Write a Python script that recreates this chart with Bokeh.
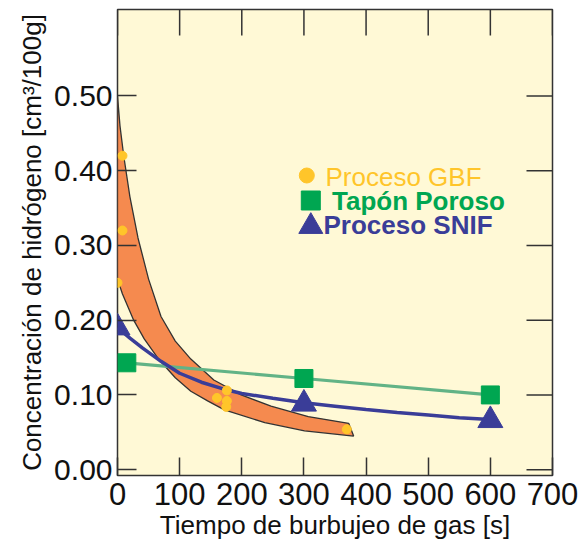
from bokeh.plotting import figure
from bokeh.models import Range1d, FixedTicker
from bokeh.embed import file_html
from bokeh.resources import INLINE
from bokeh.core.properties import value

# ---------------- data ----------------
x_ticks = [0, 100, 200, 300, 400, 500, 600, 700]
x_tick_labels = ["0", "100", "200", "300", "400", "500", "600", "700"]
y_ticks = [0.0, 0.1, 0.2, 0.3, 0.4, 0.5]
y_tick_labels = ["0.00", "0.10", "0.20", "0.30", "0.40", "0.50"]

# Proceso GBF (points)
gbf_x = [0, 8, 8, 160, 176, 176, 175, 369]
gbf_y = [0.25, 0.42, 0.32, 0.096, 0.106, 0.092, 0.084, 0.054]

# Proceso GBF scatter band (upper and lower edge)
band_upper_x = [0, 4, 10, 20, 33, 50, 70, 93, 118, 155, 199, 247, 307, 372]
band_upper_y = [0.50, 0.46, 0.42, 0.365, 0.31, 0.255, 0.205, 0.172, 0.148, 0.12, 0.10, 0.085, 0.071, 0.062]
band_lower_x = [0, 8, 26, 43, 67, 93, 118, 145, 172, 237, 301, 380]
band_lower_y = [0.255, 0.235, 0.20, 0.175, 0.147, 0.123, 0.105, 0.092, 0.080, 0.063, 0.052, 0.045]

# Tapón Poroso
tapon_x = [15, 300, 600]
tapon_y = [0.143, 0.122, 0.100]

# Proceso SNIF
snif_x = [0, 300, 600]
snif_y = [0.19, 0.088, 0.066]
snif_curve_x = [0, 20, 40, 70, 100, 135, 170, 200, 250, 300, 350, 400, 450, 500, 550, 600]
snif_curve_y = [0.19, 0.176, 0.163, 0.145, 0.129, 0.117, 0.108, 0.102, 0.0955, 0.0895, 0.085,
                0.0805, 0.0765, 0.073, 0.0695, 0.067]

legend_labels = ["Proceso GBF", "Tapón Poroso", "Proceso SNIF"]

# ---------------- style ----------------
FONT = "Liberation Sans"
C_YEL = "#FFC52A"
C_GRN = "#00A651"
C_GRN_LINE = "#62B386"
C_BLU = "#3A3D98"
C_ORG = "#F58A4F"
C_BG = "#FFF9D6"
C_INK = "#333333"
FW, FH = 435, 466

p = figure(frame_width=FW, frame_height=FH,
           x_range=Range1d(0, 700), y_range=Range1d(-0.0078, 0.6157),
           output_backend="svg", toolbar_location=None,
           min_border_left=117, min_border_right=30, min_border_top=9, min_border_bottom=0,
           background_fill_color=C_BG, border_fill_color="white",
           outline_line_color=C_INK, outline_line_width=1.5)
p.grid.visible = False

# bottom axis
xa = p.xaxis[0]
xa.ticker = FixedTicker(ticks=x_ticks)
xa.major_label_overrides = dict(zip(x_ticks, x_tick_labels))
xa.axis_line_color = None
xa.major_tick_in = 18
xa.major_tick_out = 0
xa.minor_tick_in = 0
xa.minor_tick_out = 0
xa.major_tick_line_color = C_INK
xa.major_tick_line_width = 1.5
xa.major_label_standoff = 7
xa.major_label_text_font = FONT
xa.major_label_text_font_size = "31px"
xa.major_label_text_color = "#111111"
xa.axis_label = "Tiempo de burbujeo de gas [s]"
xa.axis_label_text_font = FONT
xa.axis_label_text_font_size = "26px"
xa.axis_label_text_font_style = "normal"
xa.axis_label_text_color = "#111111"
xa.axis_label_standoff = 2

# left axis
ya = p.yaxis[0]
ya.ticker = FixedTicker(ticks=y_ticks)
ya.major_label_overrides = dict(zip(y_ticks, y_tick_labels))
ya.axis_line_color = None
ya.major_tick_in = 19
ya.major_tick_out = 0
ya.minor_tick_in = 0
ya.minor_tick_out = 0
ya.major_tick_line_color = C_INK
ya.major_tick_line_width = 1.5
ya.major_label_standoff = 5
ya.major_label_text_font = FONT
ya.major_label_text_font_size = "30px"
ya.major_label_text_color = "#111111"
ya.axis_label = "Concentración de hidrógeno [cm³/100g]"
ya.axis_label_text_font = FONT
ya.axis_label_text_font_size = "26px"
ya.axis_label_text_font_style = "normal"
ya.axis_label_text_color = "#111111"
ya.axis_label_standoff = 4

# frame-pixel helper ranges (for inward ticks on top/right and the legend)
p.extra_x_ranges = {"px": Range1d(0, FW)}
p.extra_y_ranges = {"py": Range1d(FH, 0)}

# top ticks (inward) and right ticks (inward)
p.segment(x0=x_ticks, y0=[0] * len(x_ticks), x1=x_ticks, y1=[26] * len(x_ticks),
          y_range_name="py", line_color=C_INK, line_width=1.5)
p.segment(x0=[FW - 26] * len(y_ticks), y0=y_ticks, x1=[FW] * len(y_ticks), y1=y_ticks,
          x_range_name="px", line_color=C_INK, line_width=1.5)

# GBF band
band_x = band_upper_x + band_lower_x[::-1]
band_y = band_upper_y + band_lower_y[::-1]
p.patch(band_x, band_y, fill_color=C_ORG, line_color=C_INK, line_width=1.3)

# lines
p.line(tapon_x, tapon_y, line_color=C_GRN_LINE, line_width=3.2)
p.line(snif_curve_x, snif_curve_y, line_color=C_BLU, line_width=3.5)

# markers
p.scatter(tapon_x, tapon_y, marker="square", size=18, color=C_GRN)
p.scatter(snif_x, snif_y, marker="triangle", size=25, color=C_BLU)
p.scatter(gbf_x, gbf_y, marker="circle", size=9, color=C_YEL)

# legend drawn in frame pixel coordinates
leg_marker_x = [189.3, 193.3, 193.3]
leg_marker_y = [166, 191, 217]
leg_marker_kind = ["circle", "square", "triangle"]
leg_marker_size = [15, 19, 24]
leg_colors = [C_YEL, C_GRN, C_BLU]
leg_text_x = [208, 214.5, 206]
leg_text_y = [167, 191.5, 215.5]
leg_style = ["normal", "bold", "bold"]
for i in range(3):
    p.scatter([leg_marker_x[i]], [leg_marker_y[i]], marker=leg_marker_kind[i],
              size=leg_marker_size[i], color=leg_colors[i],
              x_range_name="px", y_range_name="py")
    p.text([leg_text_x[i]], [leg_text_y[i]], text=[legend_labels[i]],
           text_font=value(FONT), text_font_size="26px",
           text_font_style=leg_style[i], text_color=leg_colors[i],
           text_baseline="alphabetic", text_align="left",
           x_range_name="px", y_range_name="py")

open("out.html", "w").write(file_html(p, INLINE))
